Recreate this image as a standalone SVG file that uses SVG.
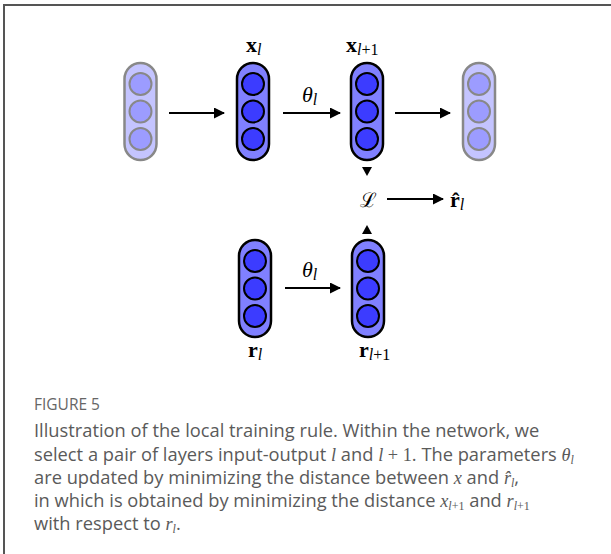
<svg xmlns="http://www.w3.org/2000/svg" width="611" height="554" viewBox="0 0 611 554">
<style>
.frame{stroke:#555;stroke-width:2;fill:none}
.capD{fill:#8080ff;stroke:#000;stroke-width:2.5}
.cirD{fill:#3c3cff;stroke:#000;stroke-width:2}
.capF{fill:#c4c4ff;stroke:#888;stroke-width:2.5}
.cirF{fill:#9c9cff;stroke:#888;stroke-width:2}
.conn{stroke:#000;stroke-width:2;fill:none}
.m{font-family:"Liberation Serif","Times New Roman",serif;fill:#000}
.mb{font-family:"Liberation Serif","Times New Roman",serif;font-weight:bold;fill:#000}
.cap{font-family:"Open Sans","Noto Sans",sans-serif;font-size:18.3px;fill:#5a5a5a}
.fig{font-family:"Open Sans","Noto Sans",sans-serif;font-size:15.5px;fill:#666}
.mi{font-family:"Liberation Serif","Times New Roman",serif;font-style:italic}
</style>
<defs>
<marker id="ah" markerWidth="11" markerHeight="11" refX="10" refY="5.5" orient="auto" markerUnits="userSpaceOnUse">
<path d="M0,0 L11,5.5 L0,11 Z" fill="#000"/>
</marker>
</defs>
<rect width="611" height="554" fill="#fff"/>
<path class="frame" d="M4,554 V5 H611"/>

<g id="layer-in-faded">
<rect class="capF" x="124.5" y="63" width="32" height="97" rx="16"/>
<circle class="cirF" cx="140.5" cy="84" r="11"/>
<circle class="cirF" cx="140.5" cy="111.5" r="11"/>
<circle class="cirF" cx="140.5" cy="139" r="11"/>
</g>
<g id="layer-xl">
<rect class="capD" x="237" y="63" width="32" height="97" rx="16"/>
<circle class="cirD" cx="253" cy="84" r="11"/>
<circle class="cirD" cx="253" cy="111.5" r="11"/>
<circle class="cirD" cx="253" cy="139" r="11"/>
<text class="mb" x="246" y="52" font-size="22">x<tspan class="mi" font-weight="normal" font-size="16" dy="3">l</tspan></text>
</g>
<g id="layer-xl1">
<rect class="capD" x="351" y="63" width="32" height="97" rx="16"/>
<circle class="cirD" cx="367" cy="84" r="11"/>
<circle class="cirD" cx="367" cy="111.5" r="11"/>
<circle class="cirD" cx="367" cy="139" r="11"/>
<text class="mb" x="346" y="52" font-size="22">x<tspan class="m" font-weight="normal" font-size="16" dy="3"><tspan class="mi">l</tspan>+1</tspan></text>
</g>
<g id="layer-out-faded">
<rect class="capF" x="463" y="63" width="32" height="97" rx="16"/>
<circle class="cirF" cx="479" cy="84" r="11"/>
<circle class="cirF" cx="479" cy="111.5" r="11"/>
<circle class="cirF" cx="479" cy="139" r="11"/>
</g>
<g id="loss">
<text x="368" y="207" font-family="DejaVu Serif,serif" font-size="20" text-anchor="middle" fill="#000">ℒ</text>
</g>
<g id="rhat">
<text class="mb" x="450" y="207" font-size="22">r̂<tspan class="mi" font-weight="normal" font-size="16" dy="3">l</tspan></text>
</g>
<g id="layer-rl">
<rect class="capD" x="239" y="240" width="32" height="97" rx="16"/>
<circle class="cirD" cx="255" cy="261" r="11"/>
<circle class="cirD" cx="255" cy="288.5" r="11"/>
<circle class="cirD" cx="255" cy="316" r="11"/>
<text class="mb" x="248" y="357" font-size="22">r<tspan class="mi" font-weight="normal" font-size="16" dy="3">l</tspan></text>
</g>
<g id="layer-rl1">
<rect class="capD" x="352" y="240" width="32" height="97" rx="16"/>
<circle class="cirD" cx="368" cy="261" r="11"/>
<circle class="cirD" cx="368" cy="288.5" r="11"/>
<circle class="cirD" cx="368" cy="316" r="11"/>
<text class="mb" x="359" y="357" font-size="22">r<tspan class="m" font-weight="normal" font-size="16" dy="3"><tspan class="mi">l</tspan>+1</tspan></text>
</g>

<g id="connectors">
<line class="conn" x1="169" y1="113" x2="224" y2="113" marker-end="url(#ah)"/>
<line class="conn" x1="283" y1="113" x2="340" y2="113" marker-end="url(#ah)"/>
<line class="conn" x1="395" y1="113" x2="450" y2="113" marker-end="url(#ah)"/>
<line class="conn" x1="387" y1="199" x2="443" y2="199" marker-end="url(#ah)"/>
<line class="conn" x1="285" y1="288" x2="340" y2="288" marker-end="url(#ah)"/>
<path d="M362,167 L372,167 L367,176 Z" fill="#000"/>
<path d="M362,234 L372,234 L367,225 Z" fill="#000"/>
<text class="m" x="302" y="102" font-size="22" font-style="italic">θ<tspan font-size="16" dy="3">l</tspan></text>
<text class="m" x="302" y="277" font-size="22" font-style="italic">θ<tspan font-size="16" dy="3">l</tspan></text>
</g>

<g id="caption">
<text class="fig" x="34" y="410">FIGURE 5</text>
<text class="cap" x="34" y="437">Illustration of the local training rule. Within the network, we</text>
<text class="cap" x="34" y="461">select a pair of layers input-output <tspan class="mi">l</tspan> and <tspan class="mi">l</tspan><tspan font-family="Liberation Serif,serif"> + 1</tspan>. The parameters <tspan class="mi">θ<tspan font-size="12" dy="3">l</tspan></tspan></text>
<text class="cap" x="34" y="484">are updated by minimizing the distance between <tspan class="mi">x</tspan> and <tspan class="mi">r̂<tspan font-size="12" dy="3">l</tspan></tspan><tspan dy="-3">,</tspan></text>
<text class="cap" x="34" y="507">in which is obtained by minimizing the distance <tspan class="mi">x<tspan font-size="12" dy="3">l</tspan><tspan font-style="normal" font-size="12">+1</tspan></tspan><tspan dy="-3"> and </tspan><tspan class="mi">r<tspan font-size="12" dy="3">l</tspan><tspan font-style="normal" font-size="12">+1</tspan></tspan></text>
<text class="cap" x="34" y="530">with respect to <tspan class="mi">r<tspan font-size="12" dy="3">l</tspan></tspan><tspan dy="-3">.</tspan></text>
</g>
</svg>
